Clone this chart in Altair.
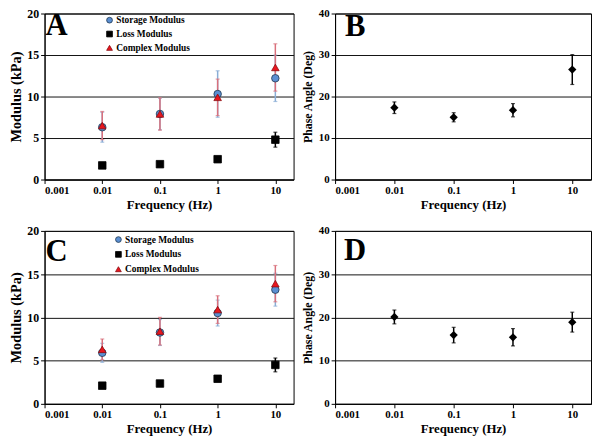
import altair as alt
import pandas as pd

FONT = "Liberation Serif"

freq = [0.01, 0.1, 1, 10]
x_ticks = [0.001, 0.01, 0.1, 1, 10]
series_names = ["Storage Modulus", "Loss Modulus", "Complex Modulus"]

a_storage = [6.3, 7.9, 10.3, 12.2]
a_storage_err = [1.8, 1.9, 2.8, 2.8]
a_loss = [1.7, 1.85, 2.45, 4.8]
a_loss_err = [0.2, 0.2, 0.3, 0.9]
a_complex = [6.5, 7.9, 9.9, 13.5]
a_complex_err = [1.7, 1.95, 2.2, 2.85]

b_phase = [17.3, 15.0, 16.7, 26.5]
b_phase_err = [1.4, 1.1, 1.6, 3.6]

c_storage = [5.9, 8.25, 10.5, 13.2]
c_storage_err = [1.1, 1.5, 1.5, 1.9]
c_loss = [2.1, 2.35, 2.9, 4.5]
c_loss_err = [0.2, 0.2, 0.3, 0.8]
c_complex = [6.3, 8.4, 10.9, 13.9]
c_complex_err = [1.2, 1.6, 1.6, 2.1]

d_phase = [20.1, 15.9, 15.4, 18.9]
d_phase_err = [1.6, 1.8, 2.0, 2.3]

mod_ticks = [0, 5, 10, 15, 20]
phase_ticks = [0, 10, 20, 30, 40]

marker_fill = ["#5b8fd2", "#000000", "#e8161e"]
marker_stroke = ["#203850", "#000000", "#8a0c10"]
err_colors = {"Storage Modulus": "#8aaed6", "Loss Modulus": "#000000", "Complex Modulus": "#d9707c"}
shapes = ["circle", "square", "triangle-up"]

W_LEFT = 252
W_RIGHT = 259
H_TOP = 168
H_BOT = 175


def x_enc():
    return alt.X(
        "freq:Q",
        scale=alt.Scale(type="log", domain=[0.001, 20.7], nice=False),
        axis=alt.Axis(values=x_ticks, format="~g", grid=False, title="Frequency (Hz)",
                      labelFontSize=11, titleFontSize=13, tickSize=4, labelPadding=1,
                      titlePadding=3),
    )


def letter_layer(letter, px, py):
    return alt.Chart(pd.DataFrame({"t": [letter]})).mark_text(
        font=FONT, fontWeight="bold", fontSize=31, align="left", baseline="alphabetic", color="black"
    ).encode(text="t:N", x=alt.value(px), y=alt.value(py))


def modulus_panel(storage, s_err, loss, l_err, cplx, c_err, letter, width, height, lx, ly, lpx, lpy, rowpad):
    rows = []
    for name, vals, errs in [("Storage Modulus", storage, s_err),
                             ("Loss Modulus", loss, l_err),
                             ("Complex Modulus", cplx, c_err)]:
        for f, v, e in zip(freq, vals, errs):
            rows.append({"series": name, "freq": f, "value": v, "lo": v - e, "hi": v + e})
    df = pd.DataFrame(rows)
    y_scale = alt.Scale(domain=[0, 20], nice=False)
    y_axis = alt.Axis(values=mod_ticks, grid=True, title="Modulus (kPa)", labelFontSize=12,
                      titleFontSize=14.5, tickSize=4, labelPadding=2, titlePadding=3)
    layers = []
    for name in series_names:
        base = alt.Chart(df).transform_filter(alt.datum.series == name)
        col = err_colors[name]
        layers.append(base.mark_rule(color=col, strokeWidth=1.5).encode(
            x=x_enc(), y=alt.Y("lo:Q", scale=y_scale, axis=y_axis), y2="hi:Q"))
        layers.append(base.mark_tick(color=col, orient="horizontal", size=4, thickness=1.2).encode(
            x=x_enc(), y=alt.Y("lo:Q", scale=y_scale, axis=y_axis)))
        layers.append(base.mark_tick(color=col, orient="horizontal", size=4, thickness=1.2).encode(
            x=x_enc(), y=alt.Y("hi:Q", scale=y_scale, axis=y_axis)))
    pts = alt.Chart(df).mark_point(filled=True, size=58, strokeWidth=0.8, opacity=1).encode(
        x=x_enc(),
        y=alt.Y("value:Q", scale=y_scale, axis=y_axis),
        color=alt.Color("series:N", scale=alt.Scale(domain=series_names, range=marker_fill),
                        legend=alt.Legend(orient="none", legendX=lx, legendY=ly, title=None,
                                          labelFont=FONT, labelFontSize=9.5, labelFontWeight="bold",
                                          labelColor="black", symbolSize=34, rowPadding=rowpad,
                                          labelOffset=2, padding=0, symbolStrokeWidth=0.8)),
        shape=alt.Shape("series:N", scale=alt.Scale(domain=series_names, range=shapes)),
        stroke=alt.Stroke("series:N", scale=alt.Scale(domain=series_names, range=marker_stroke)),
        order=alt.Order("order:Q"),
    ).transform_calculate(order="indexof(['Storage Modulus','Loss Modulus','Complex Modulus'], datum.series)")
    layers.append(pts)
    layers.append(letter_layer(letter, lpx, lpy))
    return alt.layer(*layers).properties(width=width, height=height)


def phase_panel(vals, errs, letter, width, height, lpx, lpy):
    df = pd.DataFrame({"freq": freq, "value": vals,
                       "lo": [v - e for v, e in zip(vals, errs)],
                       "hi": [v + e for v, e in zip(vals, errs)]})
    y_scale = alt.Scale(domain=[0, 40], nice=False)
    y_axis = alt.Axis(values=phase_ticks, grid=True, title="Phase Angle (Deg)", labelFontSize=11,
                      titleFontSize=12, tickSize=4, labelPadding=2, titlePadding=4)
    base = alt.Chart(df)
    rule = base.mark_rule(color="black", strokeWidth=1.5).encode(
        x=x_enc(), y=alt.Y("lo:Q", scale=y_scale, axis=y_axis), y2="hi:Q")
    t1 = base.mark_tick(color="black", orient="horizontal", size=4, thickness=1.2).encode(
        x=x_enc(), y=alt.Y("lo:Q", scale=y_scale, axis=y_axis))
    t2 = base.mark_tick(color="black", orient="horizontal", size=4, thickness=1.2).encode(
        x=x_enc(), y=alt.Y("hi:Q", scale=y_scale, axis=y_axis))
    pts = base.mark_point(filled=True, shape="diamond", size=70, color="black", opacity=1).encode(
        x=x_enc(), y=alt.Y("value:Q", scale=y_scale, axis=y_axis))
    return alt.layer(rule, t1, t2, pts, letter_layer(letter, lpx, lpy)).properties(width=width, height=height)


pA = modulus_panel(a_storage, a_storage_err, a_loss, a_loss_err, a_complex, a_complex_err,
                   "A", W_LEFT, H_TOP, 61, 2, 1, 22, 3)
pB = phase_panel(b_phase, b_phase_err, "B", W_RIGHT, H_TOP, 10, 23)
pC = modulus_panel(c_storage, c_storage_err, c_loss, c_loss_err, c_complex, c_complex_err,
                   "C", W_LEFT, H_BOT, 70, 4, 1, 30, 4)
pD = phase_panel(d_phase, d_phase_err, "D", W_RIGHT, H_BOT, 9, 29)

chart = alt.concat(pA, pB, pC, pD, columns=2, spacing={"row": 12, "column": 6}).resolve_scale(
    x="independent", y="independent", color="independent", shape="independent", stroke="independent"
).resolve_legend(color="independent", shape="independent", stroke="independent").properties(
    padding={"left": 0, "top": -4, "right": 0, "bottom": 0}, background="white"
).configure_view(stroke="black", strokeWidth=1).configure_axis(
    labelFont=FONT, titleFont=FONT, labelFontWeight="bold", titleFontWeight="bold",
    labelColor="black", titleColor="black", domainColor="black", tickColor="black",
    gridColor="#111111", gridWidth=1, gridOpacity=1, domainWidth=1
)

chart.save("out.html", embed_options={"renderer": "svg", "actions": False})
